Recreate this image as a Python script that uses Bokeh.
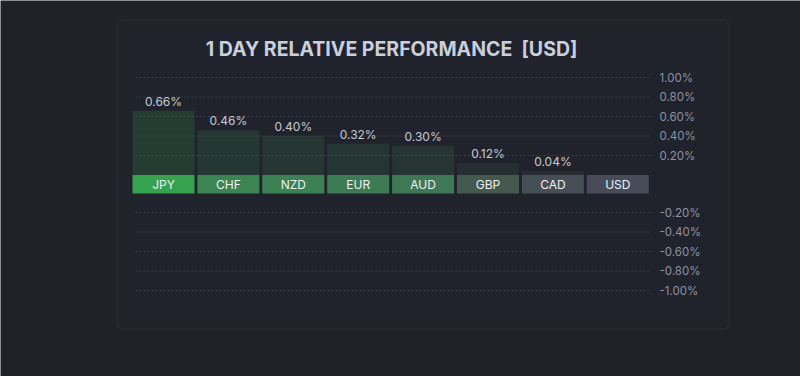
from bokeh.plotting import figure
from bokeh.models import Range1d, ColumnDataSource, BoxAnnotation
from bokeh.core.properties import value
from bokeh.embed import file_html
from bokeh.resources import INLINE

# ---- data ----
currencies = ["JPY", "CHF", "NZD", "EUR", "AUD", "GBP", "CAD", "USD"]
performance = [0.66, 0.46, 0.40, 0.32, 0.30, 0.12, 0.04, 0.00]
pos_ticks = [1.0, 0.8, 0.6, 0.4, 0.2]
neg_ticks = [-0.2, -0.4, -0.6, -0.8, -1.0]
title_text = "1 DAY RELATIVE PERFORMANCE\u00a0\u00a0[USD]"

# ---- styles ----
strip_colors = ["#36a24f", "#3a8552", "#3b8153", "#3d7b54", "#3f7854",
                "#45594f", "#464e56", "#484b5a"]
BG = "#1f2229"
FONT = "Inter"

# ---- layout constants (pixel -> data scale) ----
W, H = 800, 376
PXX, X0 = 64.9, 163.0      # px per category, px of first category center
PXY, Y0 = 97.5, 174.5      # px per 1 %, px of zero line
STRIP = 0.19               # label strip height (in % units)
GAP = 0.185                # offset applied to negative region

p = figure(width=W, height=H, output_backend="svg", toolbar_location=None,
           x_range=Range1d(-X0 / PXX, (W - X0) / PXX),
           y_range=Range1d((Y0 - H) / PXY, Y0 / PXY),
           x_axis_location=None, y_axis_location=None,
           min_border=0, min_border_left=0, min_border_right=0,
           min_border_top=0, min_border_bottom=0)
p.background_fill_color = BG
p.border_fill_color = BG
p.outline_line_color = None
p.grid.visible = False

def px2x(px):
    return (px - X0) / PXX

def px2y(px):
    return (Y0 - px) / PXY

# panel
p.add_layout(BoxAnnotation(left=px2x(116.5), right=px2x(728.5),
                           top=px2y(19.5), bottom=px2y(328.5),
                           fill_color="#20232b", fill_alpha=1.0,
                           line_color="#464a55", line_width=1.2,
                           border_radius=6, level="underlay"))

# gridlines
grid_y = pos_ticks + [t - GAP for t in neg_ticks]
grid_lbl = ["%.2f%%" % t for t in pos_ticks + neg_ticks]
gsrc = ColumnDataSource(dict(y=grid_y, lbl=grid_lbl))
p.segment(x0=px2x(135), x1=px2x(651), y0="y", y1="y", source=gsrc,
          line_color="#3a3f4a", line_width=1, line_dash="2 2")
p.text(x=px2x(659), y="y", text="lbl", source=gsrc,
       text_font=value(FONT), text_font_size="11.5px", text_color="#8d92a4",
       text_align="left", text_baseline="middle")

xs = list(range(len(currencies)))
src = ColumnDataSource(dict(x=xs, v=performance, cur=currencies,
                            col=strip_colors))
BW = 62.0 / PXX
# bar bodies
p.vbar(x="x", top="v", bottom=0, width=BW, source=src,
       fill_color="col", fill_alpha=0.2, line_color=None)
# label strip
p.vbar(x="x", top=0, bottom=-STRIP, width=BW, source=src,
       fill_color="col", line_color=None)
p.text(x="x", y=-STRIP / 2, text="cur", source=src,
       text_font=value(FONT), text_font_size="12px", text_font_style="normal",
       text_color="#eef0f4", text_align="center", text_baseline="middle")
# value labels (USD has no value label)
vsrc = ColumnDataSource(dict(x=xs[:-1], v=performance[:-1],
                             lbl=["%.2f%%" % v for v in performance[:-1]]))
p.text(x="x", y="v", text="lbl", source=vsrc, y_offset=-2,
       text_font=value(FONT), text_font_size="12px",
       text_color="#c6cad4", text_align="center", text_baseline="bottom")

# title
p.text(x=[px2x(391)], y=[px2y(48)], text=[title_text],
       text_font=value(FONT), text_font_size="19.5px", text_font_style="bold",
       text_color="#c9cfdc", text_align="center", text_baseline="middle")

open("out.html", "w").write(file_html(p, INLINE))
